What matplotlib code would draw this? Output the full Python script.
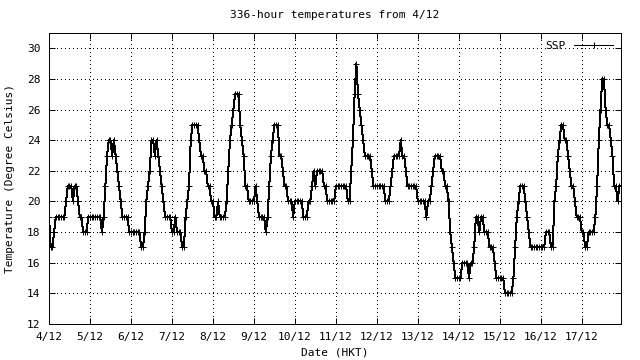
import numpy as np
import matplotlib
matplotlib.use("Agg")
import matplotlib.pyplot as plt

# hourly temperatures (deg C), 336 hours from 4/12, one row per day
temps = [
    19, 17, 17, 18, 19, 19, 19, 19, 19, 19, 20, 21, 21, 21, 20, 21, 21, 20, 19, 19, 18, 18, 18, 19,
    19, 19, 19, 19, 19, 19, 19, 18, 19, 21, 23, 24, 24, 23, 24, 23, 22, 21, 20, 19, 19, 19, 19, 18,
    18, 18, 18, 18, 18, 18, 17, 17, 18, 20, 21, 22, 24, 24, 23, 24, 23, 22, 21, 20, 19, 19, 19, 19,
    18, 18, 19, 18, 18, 18, 17, 17, 19, 20, 21, 24, 25, 25, 25, 25, 24, 23, 23, 22, 22, 21, 21, 20,
    20, 19, 19, 20, 19, 19, 19, 19, 20, 22, 24, 25, 26, 27, 27, 27, 25, 24, 23, 21, 21, 20, 20, 20,
    20, 21, 20, 19, 19, 19, 19, 18, 19, 21, 23, 24, 25, 25, 25, 23, 23, 22, 21, 21, 20, 20, 20, 19,
    20, 20, 20, 20, 20, 19, 19, 19, 20, 20, 21, 22, 21, 22, 22, 22, 22, 21, 21, 20, 20, 20, 20, 20,
    21, 21, 21, 21, 21, 21, 21, 20, 20, 22, 24, 27, 29, 27, 26, 25, 24, 23, 23, 23, 23, 22, 21, 21,
    21, 21, 21, 21, 21, 20, 20, 20, 21, 22, 23, 23, 23, 23, 24, 23, 23, 22, 21, 21, 21, 21, 21, 21,
    20, 20, 20, 20, 20, 19, 20, 20, 21, 22, 23, 23, 23, 23, 22, 22, 21, 21, 20, 18, 17, 16, 15, 15,
    15, 15, 16, 16, 16, 16, 15, 16, 16, 17, 19, 19, 18, 19, 19, 18, 18, 18, 17, 17, 17, 16, 15, 15,
    15, 15, 15, 14, 14, 14, 14, 14, 15, 17, 19, 20, 21, 21, 21, 20, 19, 18, 17, 17, 17, 17, 17, 17,
    17, 17, 17, 18, 18, 18, 17, 17, 20, 21, 23, 24, 25, 25, 24, 24, 23, 22, 21, 21, 20, 19, 19, 19,
    18, 18, 17, 17, 18, 18, 18, 18, 19, 21, 24, 26, 28, 28, 26, 25, 25, 24, 23, 21, 21, 20, 21, 21,
]
day_labels = ["4/12", "5/12", "6/12", "7/12", "8/12", "9/12", "10/12",
              "11/12", "12/12", "13/12", "14/12", "15/12", "16/12", "17/12"]
y_ticks = [12, 14, 16, 18, 20, 22, 24, 26, 28, 30]

hours = np.arange(len(temps))

plt.rcParams['font.family'] = ['DejaVu Sans Mono']
plt.rcParams['font.size'] = 8
plt.rcParams['lines.antialiased'] = False

px = 0.72  # one pixel in points at 100 dpi

fig = plt.figure(figsize=(6.4, 3.6), dpi=100)
ax = fig.add_axes([49 / 640, 36 / 360, 572 / 640, 291 / 360])

ax.plot(hours, temps, color='k', lw=px, marker='+', ms=5, mew=px, label='SSP')

ax.set_xlim(0, len(temps) - 1)
ax.set_ylim(12, 31)
ax.set_xticks(np.arange(len(day_labels)) * 24)
ax.set_xticklabels(day_labels)
ax.set_yticks(y_ticks)

ax.grid(True, color='k', linestyle=(0, (1, 4)), linewidth=px)
ax.tick_params(direction='in', length=4, width=px, top=True, right=True,
               colors='k', labelsize=8, pad=6)
for s in ax.spines.values():
    s.set_linewidth(px)

ax.set_title('336-hour temperatures from 4/12', fontsize=8, pad=11)
ax.set_xlabel('Date (HKT)', fontsize=8, labelpad=4)
ax.set_ylabel('Temperature (Degree Celsius)', fontsize=8, labelpad=9)

leg = ax.legend(loc='upper right', frameon=False, fontsize=8,
                handlelength=3.5, borderaxespad=0.3, markerfirst=False)

fig.savefig('out.png', dpi=100)
